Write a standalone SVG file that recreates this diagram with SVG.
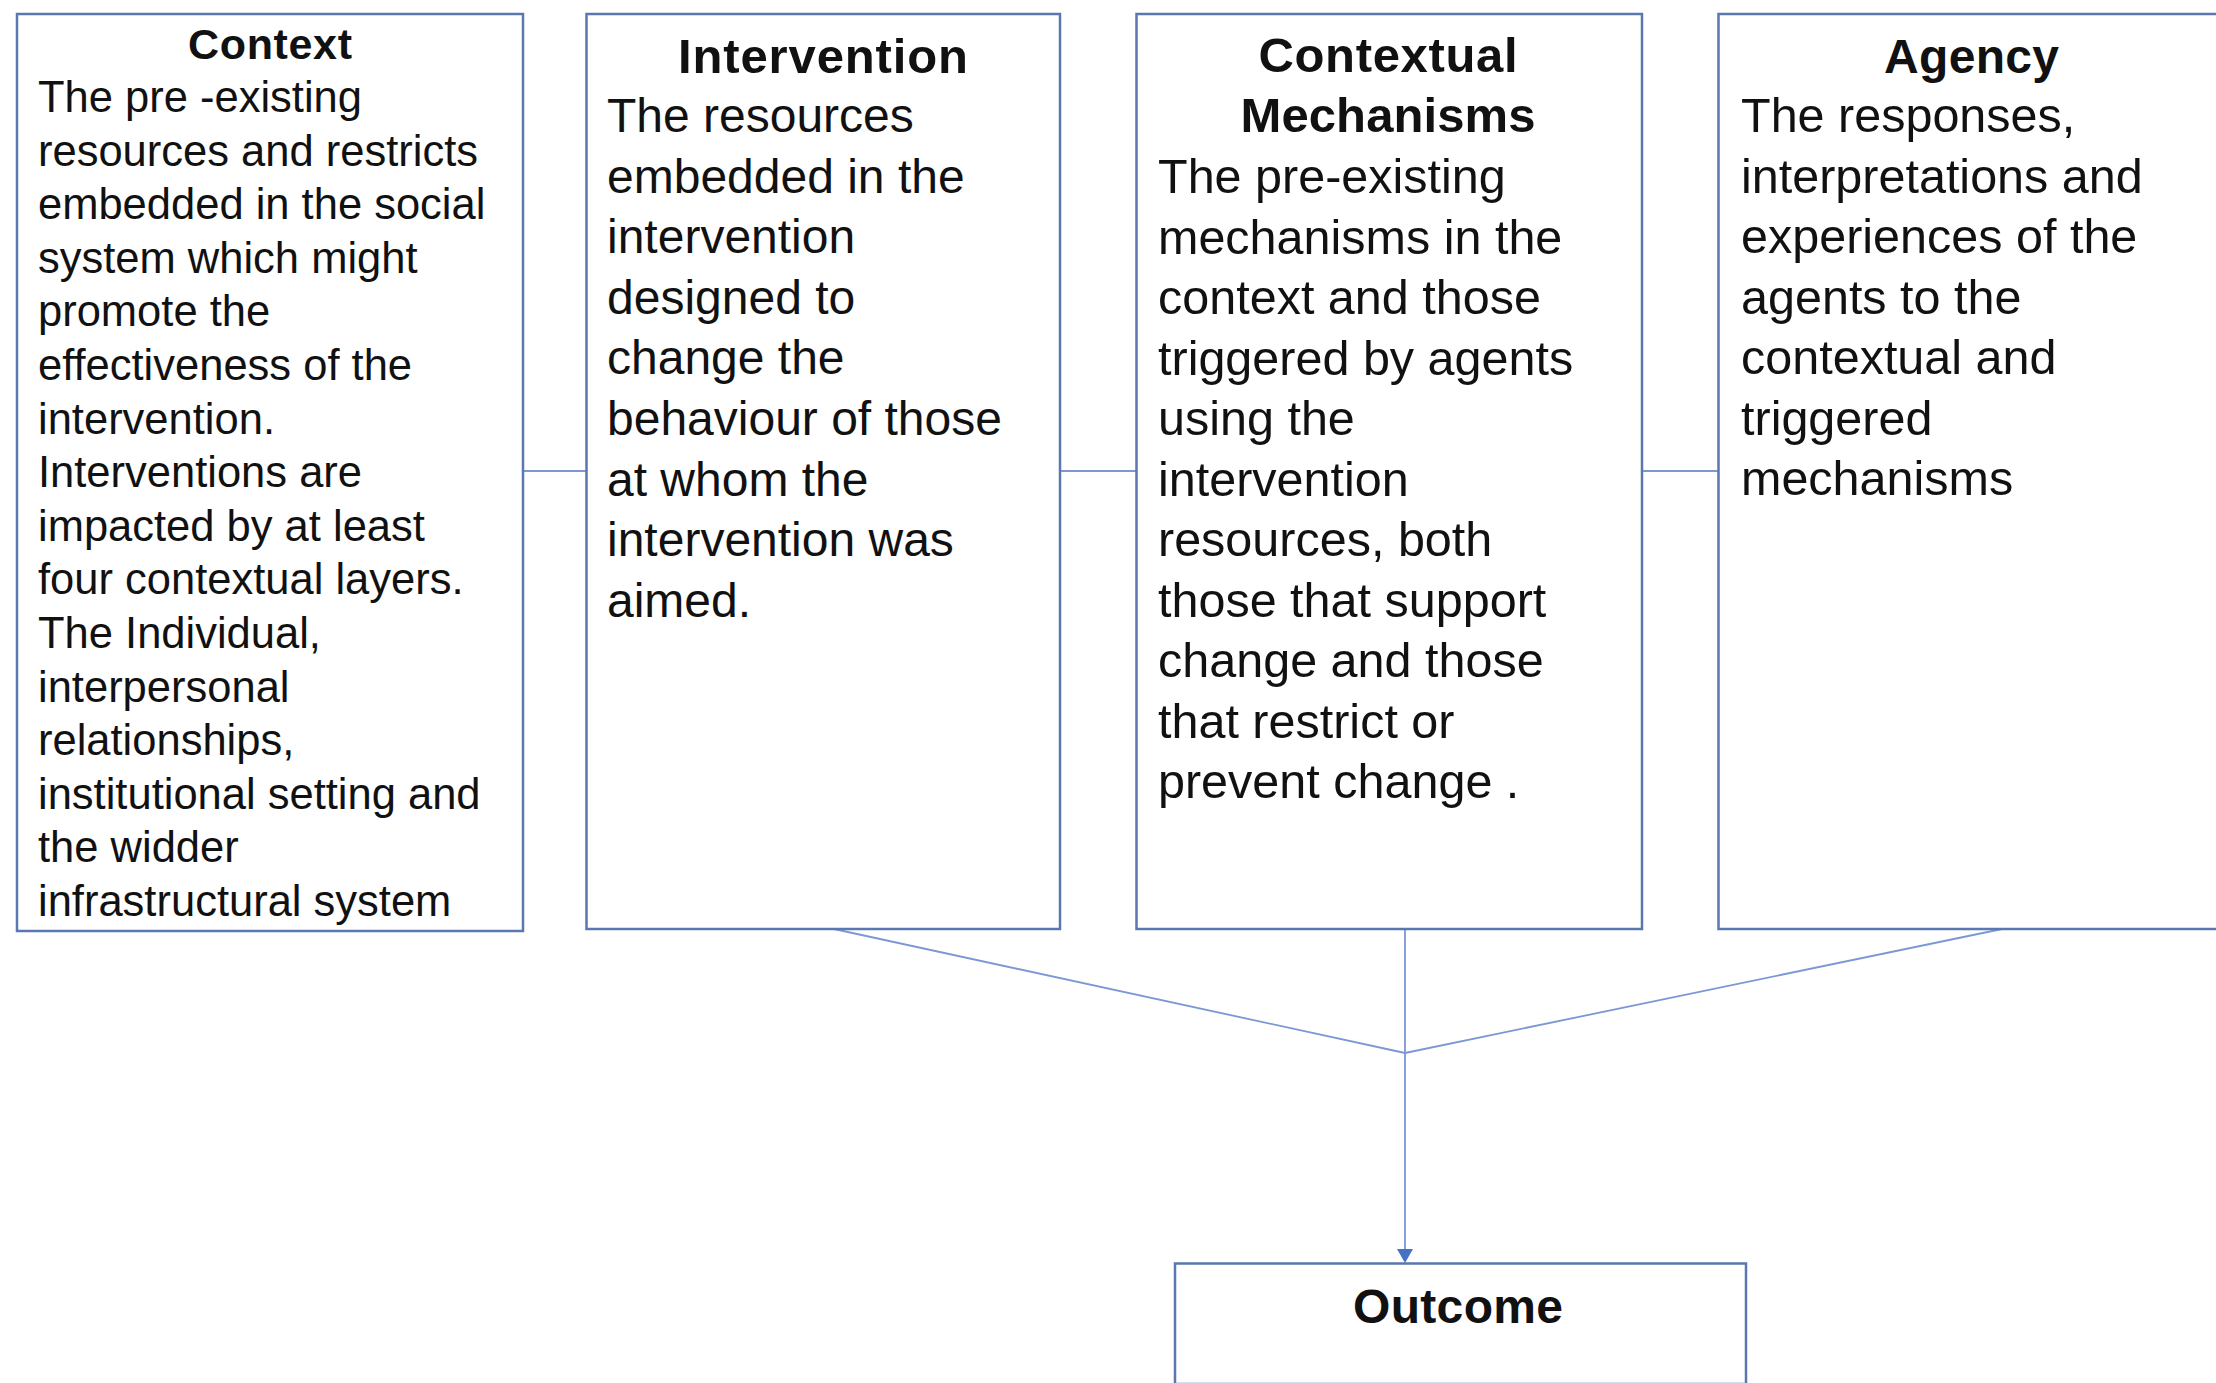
<svg xmlns="http://www.w3.org/2000/svg" width="2216" height="1383" viewBox="0 0 2216 1383">
<defs>
<style>
.box{fill:#ffffff;stroke:#5a77b0;stroke-width:2.5}
.conn{fill:none;stroke:#7b98d4;stroke-width:1.8}
.title{font-family:"Liberation Sans",Arial,sans-serif;font-weight:bold;fill:#111;text-anchor:middle}
.body{font-family:"Liberation Sans",Arial,sans-serif;fill:#111}
</style>
</defs>
<rect width="2216" height="1383" fill="#ffffff"/>
<g id="connectors">
<line class="conn" x1="523" y1="471" x2="586" y2="471"/>
<line class="conn" x1="1060" y1="471" x2="1136" y2="471"/>
<line class="conn" x1="1642" y1="471" x2="1718" y2="471"/>
<line class="conn" x1="834" y1="929" x2="1405" y2="1053"/>
<line class="conn" x1="2002" y1="929" x2="1405" y2="1053"/>
<path d="M1405,929 L1405,1250" class="conn"/>
<path d="M1397,1249 L1413,1249 L1405,1263 z" fill="#4472c4"/>
</g>
<g id="context">
<rect class="box" x="17" y="14" width="506" height="917"/>
<text class="title" x="270" y="59" font-size="43" textLength="164">Context</text>
<text class="body" font-size="43.5">
<tspan x="38" y="112">The pre -existing</tspan>
<tspan x="38" y="165.6">resources and restricts</tspan>
<tspan x="38" y="219.2">embedded in the social</tspan>
<tspan x="38" y="272.8">system which might</tspan>
<tspan x="38" y="326.4">promote the</tspan>
<tspan x="38" y="380">effectiveness of the</tspan>
<tspan x="38" y="433.6">intervention.</tspan>
<tspan x="38" y="487.2">Interventions are</tspan>
<tspan x="38" y="540.8">impacted by at least</tspan>
<tspan x="38" y="594.4">four contextual layers.</tspan>
<tspan x="38" y="648">The Individual,</tspan>
<tspan x="38" y="701.6">interpersonal</tspan>
<tspan x="38" y="755.2">relationships,</tspan>
<tspan x="38" y="808.8">institutional setting and</tspan>
<tspan x="38" y="862.4">the widder</tspan>
<tspan x="38" y="916">infrastructural system</tspan>
</text>
</g>
<g id="intervention">
<rect class="box" x="586.5" y="14" width="473.5" height="915"/>
<text class="title" x="823" y="73" font-size="49" textLength="290">Intervention</text>
<text class="body" font-size="48">
<tspan x="607" y="132">The resources</tspan>
<tspan x="607" y="192.6">embedded in the</tspan>
<tspan x="607" y="253.2">intervention</tspan>
<tspan x="607" y="313.8">designed to</tspan>
<tspan x="607" y="374.4">change the</tspan>
<tspan x="607" y="435">behaviour of those</tspan>
<tspan x="607" y="495.6">at whom the</tspan>
<tspan x="607" y="556.2">intervention was</tspan>
<tspan x="607" y="616.8">aimed.</tspan>
</text>
</g>
<g id="contextual-mechanisms">
<rect class="box" x="1136.5" y="14" width="505.5" height="915"/>
<text class="title" x="1388" y="72" font-size="49" textLength="259">Contextual</text>
<text class="title" x="1388" y="132" font-size="49" textLength="295">Mechanisms</text>
<text class="body" font-size="48.5">
<tspan x="1158" y="193">The pre-existing</tspan>
<tspan x="1158" y="253.5">mechanisms in the</tspan>
<tspan x="1158" y="314">context and those</tspan>
<tspan x="1158" y="374.5">triggered by agents</tspan>
<tspan x="1158" y="435">using the</tspan>
<tspan x="1158" y="495.5">intervention</tspan>
<tspan x="1158" y="556">resources, both</tspan>
<tspan x="1158" y="616.5">those that support</tspan>
<tspan x="1158" y="677">change and those</tspan>
<tspan x="1158" y="737.5">that restrict or</tspan>
<tspan x="1158" y="798">prevent change .</tspan>
</text>
</g>
<g id="agency">
<rect class="box" x="1718.5" y="14" width="510" height="915"/>
<text class="title" x="1971.5" y="73" font-size="48" textLength="175">Agency</text>
<text class="body" font-size="48.5">
<tspan x="1741" y="132">The responses,</tspan>
<tspan x="1741" y="192.5">interpretations and</tspan>
<tspan x="1741" y="253">experiences of the</tspan>
<tspan x="1741" y="313.5">agents to the</tspan>
<tspan x="1741" y="374">contextual and</tspan>
<tspan x="1741" y="434.5">triggered</tspan>
<tspan x="1741" y="495">mechanisms</tspan>
</text>
</g>
<g id="outcome">
<rect class="box" x="1175" y="1263.5" width="571" height="120.5"/>
<text class="title" x="1458" y="1323" font-size="48" textLength="210">Outcome</text>
</g>
</svg>
